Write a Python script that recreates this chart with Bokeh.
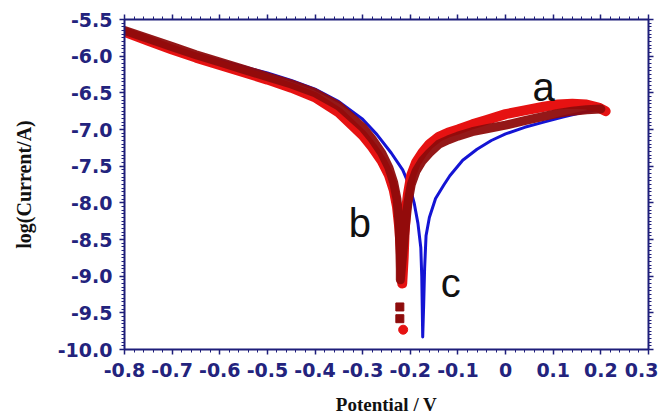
from bokeh.plotting import figure
from bokeh.models import Range1d, LinearAxis, FixedTicker, CustomJSTickFormatter
from bokeh.embed import file_html
from bokeh.resources import INLINE
from bokeh.core.properties import value
import numpy as np

# ---------------- data ----------------
x_ticks = [-0.8, -0.7, -0.6, -0.5, -0.4, -0.3, -0.2, -0.1, 0.0, 0.1, 0.2, 0.3]
x_tick_labels = ["-0.8", "-0.7", "-0.6", "-0.5", "-0.4", "-0.3", "-0.2", "-0.1", "0", "0.1", "0.2", "0.3"]
y_ticks = [-10.0, -9.5, -9.0, -8.5, -8.0, -7.5, -7.0, -6.5, -6.0, -5.5]
y_tick_labels = ["-10.0", "-9.5", "-9.0", "-8.5", "-8.0", "-7.5", "-7.0", "-6.5", "-6.0", "-5.5"]

# curve a (bright red)
a_x = [-0.80, -0.75, -0.70, -0.65, -0.60, -0.55, -0.50, -0.45, -0.40, -0.35, -0.30, -0.28, -0.26,
       -0.245, -0.235, -0.228, -0.223, -0.220, -0.218, -0.217,
       -0.214, -0.212, -0.209, -0.205, -0.198, -0.188, -0.175, -0.160, -0.140, -0.120, -0.100,
       -0.070, -0.040, 0.000, 0.040, 0.080, 0.110, 0.140, 0.170, 0.195, 0.210]
a_y = [-5.67, -5.79, -5.91, -6.02, -6.12, -6.22, -6.32, -6.43, -6.56, -6.77, -7.08, -7.24, -7.43,
       -7.62, -7.82, -8.05, -8.35, -8.65, -8.90, -9.10,
       -8.75, -8.40, -8.10, -7.88, -7.62, -7.45, -7.32, -7.20, -7.10, -7.04, -7.00,
       -6.93, -6.87, -6.79, -6.74, -6.69, -6.66, -6.65, -6.66, -6.70, -6.75]
a_tail_x = [-0.215]
a_tail_y = [-9.73]

# curve b (dark red)
b_x = [-0.80, -0.75, -0.70, -0.65, -0.60, -0.55, -0.50, -0.45, -0.40, -0.35, -0.30, -0.28, -0.26,
       -0.245, -0.235, -0.228, -0.224, -0.222, -0.221, -0.221,
       -0.216, -0.210, -0.205, -0.198, -0.188, -0.175, -0.160, -0.140, -0.120, -0.100,
       -0.070, -0.040, 0.000, 0.040, 0.080, 0.110, 0.140, 0.170, 0.200]
b_y = [-5.65, -5.76, -5.87, -5.98, -6.08, -6.18, -6.28, -6.38, -6.50, -6.68, -6.97, -7.13, -7.32,
       -7.52, -7.72, -7.95, -8.25, -8.60, -8.90, -9.05,
       -8.70, -8.30, -8.00, -7.75, -7.57, -7.43, -7.32, -7.20, -7.14, -7.09,
       -7.03, -6.99, -6.94, -6.88, -6.82, -6.78, -6.75, -6.73, -6.72]
b_tail_x = [-0.222, -0.222]
b_tail_y = [-9.42, -9.58]

# curve c (blue)
c_x = [-0.80, -0.70, -0.60, -0.50, -0.45, -0.40, -0.35, -0.30, -0.27, -0.24, -0.216, -0.201,
       -0.192, -0.184, -0.178, -0.176, -0.175, -0.174,
       -0.172, -0.170, -0.167, -0.160, -0.147, -0.130, -0.117, -0.090, -0.060, -0.030,
       0.000, 0.040, 0.080, 0.120, 0.160, 0.200]
c_y = [-5.70, -5.88, -6.06, -6.23, -6.33, -6.45, -6.62, -6.86, -7.07, -7.32, -7.55, -7.78,
       -8.00, -8.28, -8.61, -9.00, -9.40, -9.83,
       -9.40, -8.90, -8.45, -8.20, -7.94, -7.76, -7.63, -7.42, -7.27, -7.15,
       -7.06, -6.97, -6.90, -6.83, -6.77, -6.72]

labels_text = ["a", "b", "c"]
labels_x = [0.080, -0.306, -0.115]
labels_y = [-6.42, -8.28, -9.09]

# ---------------- figure ----------------
AX = "#1e1e7a"
LBL = "#23237d"

p = figure(width=658, height=417,
           x_range=Range1d(-0.8, 0.3), y_range=Range1d(-10.0, -5.5),
           output_backend="svg", toolbar_location=None,
           min_border_left=124, min_border_right=10, min_border_top=19, min_border_bottom=64)
p.grid.visible = False
p.outline_line_color = None
p.background_fill_color = "white"

x_minor = [round(v, 2) for v in np.arange(-0.8, 0.3001, 0.02)]
y_minor = [round(v, 2) for v in np.arange(-10.0, -5.4999, 0.05)]

lookup_code = """
let best = 0;
for (let i = 0; i < vals.length; i++) {
  if (Math.abs(vals[i] - tick) < Math.abs(vals[best] - tick)) best = i;
}
return labels[best];
"""
xf = CustomJSTickFormatter(args=dict(vals=x_ticks, labels=x_tick_labels), code=lookup_code)
yf = CustomJSTickFormatter(args=dict(vals=y_ticks, labels=y_tick_labels), code=lookup_code)
blank = CustomJSTickFormatter(code="return ''")

def style_axis(ax, show_labels):
    ax.axis_line_color = AX
    ax.axis_line_width = 2
    ax.major_tick_line_color = AX
    ax.minor_tick_line_color = AX
    ax.major_tick_line_width = 1.5
    ax.minor_tick_line_width = 1
    ax.major_tick_out = 5
    ax.major_tick_in = 0
    ax.minor_tick_out = 3
    ax.minor_tick_in = 0
    if show_labels:
        ax.major_label_text_font = "DejaVu Sans"
        ax.major_label_text_font_style = "bold"
        ax.major_label_text_font_size = "19px"
        ax.major_label_text_color = LBL
    else:
        ax.formatter = blank
        ax.major_label_standoff = 0

xa = p.xaxis[0]
xa.ticker = FixedTicker(ticks=x_ticks, minor_ticks=x_minor)
xa.formatter = xf
style_axis(xa, True)
xa.major_label_standoff = 8
xa.axis_label = "Potential / V"
xa.axis_label_text_font = "Liberation Serif"
xa.axis_label_text_font_style = "bold"
xa.axis_label_text_font_size = "19px"
xa.axis_label_text_color = "#111111"
xa.axis_label_standoff = 14

ya = p.yaxis[0]
ya.ticker = FixedTicker(ticks=y_ticks, minor_ticks=y_minor)
ya.formatter = yf
style_axis(ya, True)
ya.major_label_standoff = 7
ya.axis_label = "log(Current/A)"
ya.axis_label_text_font = "Liberation Serif"
ya.axis_label_text_font_style = "bold"
ya.axis_label_text_font_size = "20px"
ya.axis_label_text_color = "#111111"
ya.axis_label_standoff = 20

top = LinearAxis(ticker=FixedTicker(ticks=x_ticks, minor_ticks=x_minor))
style_axis(top, False)
p.add_layout(top, "above")
right = LinearAxis(ticker=FixedTicker(ticks=y_ticks, minor_ticks=y_minor))
style_axis(right, False)
p.add_layout(right, "right")

# ---------------- curves ----------------
p.line(c_x, c_y, line_color="#1414d4", line_width=3, line_join="round")
p.line(a_x, a_y, line_color="#e61212", line_width=10, line_cap="round", line_join="round")
p.scatter(a_tail_x, a_tail_y, marker="circle", size=9, fill_color="#e61212", line_color="#e61212")
p.line(b_x, b_y, line_color="#8e0c0c", line_width=9, line_cap="round", line_join="round", line_alpha=0.95)
p.scatter(b_tail_x, b_tail_y, marker="square", size=8, fill_color="#8e0c0c", line_color="#8e0c0c")

p.text(labels_x, labels_y, text=labels_text, text_font=value("Liberation Sans"),
       text_font_size="40px", text_color="#111111", text_align="center", text_baseline="alphabetic")

open("out.html", "w").write(file_html(p, INLINE))
